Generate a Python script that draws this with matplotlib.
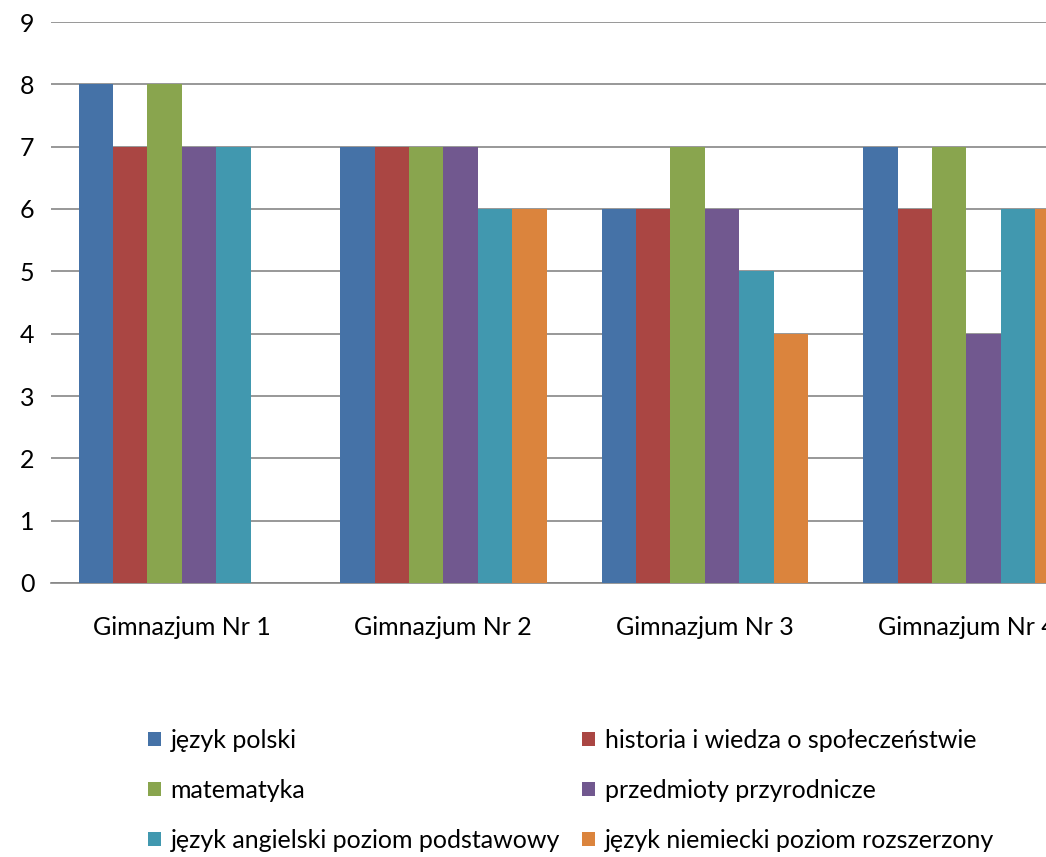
import matplotlib.pyplot as plt
import numpy as np

plt.rcParams['font.family'] = ['Lato', 'DejaVu Sans']

# Data
schools = ["Gimnazjum Nr 1", "Gimnazjum Nr 2", "Gimnazjum Nr 3", "Gimnazjum Nr 4"]
subjects = [
    "język polski",
    "historia i wiedza o społeczeństwie",
    "matematyka",
    "przedmioty przyrodnicze",
    "język angielski poziom podstawowy",
    "język niemiecki poziom rozszerzony",
]
jezyk_polski = [8, 7, 6, 7]
historia = [7, 7, 6, 6]
matematyka = [8, 7, 7, 7]
przyrodnicze = [7, 7, 6, 4]
angielski = [7, 6, 5, 6]
niemiecki = [0, 6, 4, 6]
series = [jezyk_polski, historia, matematyka, przyrodnicze, angielski, niemiecki]
colors = ["#4572a7", "#aa4643", "#89a54e", "#71588f", "#4198af", "#db843d"]

fig = plt.figure(figsize=(10.46, 8.57), dpi=100)
ax = fig.add_axes([51 / 1046, 274 / 857, 1 - 51 / 1046, 561 / 857])

x = np.arange(len(schools))
width = 0.1316
handles = []
for i, (vals, col) in enumerate(zip(series, colors)):
    offs = (i - 2.5) * width
    b = ax.bar(x + offs, vals, width, color=col, label=subjects[i], zorder=3)
    handles.append(b)

ax.set_ylim(0, 9)
ax.set_yticks(range(10))
ax.set_xlim(-0.5, 3.304)
ax.set_xticks(x)
ax.set_xticklabels(schools)
ax.grid(axis='y', color='#868686', linewidth=1.2, zorder=0)
for s in ['left', 'right', 'top']:
    ax.spines[s].set_visible(False)
ax.spines['bottom'].set_color('#868686')
ax.spines['bottom'].set_linewidth(1.2)
ax.tick_params(axis='both', length=0, labelsize=18)
ax.tick_params(axis='y', pad=12)
ax.tick_params(axis='x', pad=24)

order = [0, 2, 4, 1, 3, 5]
fig.legend([handles[k] for k in order], [subjects[k] for k in order],
           ncol=2, loc='upper left', bbox_to_anchor=(148 / 1046, 1 - 729 / 857),
           frameon=False, fontsize=18, handlelength=0.5, handleheight=0.5,
           handletextpad=0.4, columnspacing=0.9, labelspacing=1.08,
           borderpad=0, borderaxespad=0)

fig.savefig("out.png", dpi=100)
